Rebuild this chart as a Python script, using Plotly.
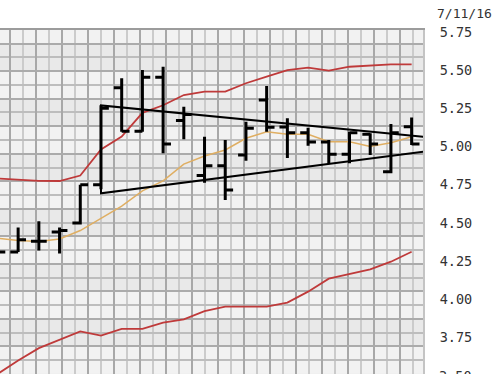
import plotly.graph_objects as go

# ---- data -------------------------------------------------------------
sessions = list(range(21))

opens = [4.40, 4.31, 4.38, 4.44, 4.50, 4.75, 5.385, 5.10, 5.453, 5.17, 4.81,
         4.874, 4.944, 5.304, 5.127, 5.09, 5.03, 4.95, 5.08, 4.835, 5.13]
highs = [4.45, 4.47, 4.51, 4.47, 4.75, 5.27, 5.446, 5.50, 5.522, 5.26, 5.064,
         5.043, 5.162, 5.396, 5.185, 5.123, 5.043, 5.097, 5.086, 5.147, 5.19]
lows = [4.31, 4.31, 4.32, 4.30, 4.49, 4.72, 5.097, 5.097, 4.955, 5.048, 4.763,
        4.65, 4.907, 5.097, 4.925, 5.005, 4.89, 4.89, 4.944, 4.825, 5.01]
closes = [4.31, 4.39, 4.38, 4.45, 4.75, 5.25, 5.10, 5.453, 5.016, 5.21, 4.874,
          4.716, 5.119, 5.126, 5.09, 5.03, 4.95, 5.09, 5.016, 5.09, 5.016]

upper_band = [4.79, 4.78, 4.775, 4.774, 4.81, 4.98, 5.065, 5.22, 5.27, 5.337,
              5.359, 5.359, 5.414, 5.457, 5.50, 5.516, 5.496, 5.522, 5.529,
              5.538, 5.538]
middle_band = [4.40, 4.385, 4.378, 4.395, 4.45, 4.53, 4.61, 4.71, 4.775, 4.885,
               4.938, 4.977, 5.054, 5.097, 5.08, 5.08, 5.031, 5.031, 5.0,
               5.025, 5.064]
lower_band = [3.51, 3.60, 3.68, 3.735, 3.79, 3.762, 3.806, 3.806, 3.847, 3.869,
              3.923, 3.952, 3.952, 3.952, 3.978, 4.05, 4.135, 4.164, 4.196,
              4.246, 4.311]

# symmetrical triangle: apex side open to the right
triangle_x = [21, 5, 5, 21]
triangle_y = [5.058, 5.269, 4.694, 4.974]

price_ticks = [3.75, 4.00, 4.25, 4.50, 4.75, 5.00, 5.25, 5.50, 5.75]
cut_tick = 3.50
date_label = "7/11/16"

# ---- frame ------------------------------------------------------------
X_RANGE = [0.124, 20.549]
Y_RANGE = [3.511, 5.7624]
GRID_X0, GRID_DX = 0.606, 1.2554
GRID_Y0, GRID_DY = 5.6725, 0.18
LABEL_FONT = dict(family="DejaVu Sans Mono", size=13.5, color="#333333")

fig = go.Figure()

fig.add_trace(go.Scatter(x=sessions, y=upper_band, mode="lines",
                         line=dict(color="#bf3a3a", width=1.8), hoverinfo="skip"))
fig.add_trace(go.Scatter(x=sessions, y=lower_band, mode="lines",
                         line=dict(color="#bf3a3a", width=1.8), hoverinfo="skip"))
fig.add_trace(go.Scatter(x=sessions, y=middle_band, mode="lines",
                         line=dict(color="#dfae62", width=1.5), hoverinfo="skip"))
fig.add_trace(go.Scatter(x=triangle_x, y=triangle_y, mode="lines",
                         line=dict(color="#000000", width=2), hoverinfo="skip"))

fig.add_trace(go.Ohlc(
    x=sessions, open=opens, high=highs, low=lows, close=closes,
    increasing=dict(line=dict(color="#000000", width=3)),
    decreasing=dict(line=dict(color="#000000", width=3)),
    tickwidth=0.38, yaxis="y2", hoverinfo="skip",
))

# alternating shaded rows behind the grid
shapes = []
m = 0
while GRID_Y0 - GRID_DY * (m + 1) > Y_RANGE[0] - GRID_DY:
    shapes.append(dict(type="rect", xref="paper", yref="y", layer="below",
                       x0=0, x1=1,
                       y0=GRID_Y0 - GRID_DY * m, y1=GRID_Y0 - GRID_DY * (m + 1),
                       fillcolor="#e9e9e9", line=dict(width=0)))
    m += 2

span = Y_RANGE[1] - Y_RANGE[0]
annotations = [
    dict(text=date_label, xref="paper", yref="paper", x=1, y=1.049,
         xanchor="left", yanchor="middle", xshift=12, showarrow=False,
         font=dict(family="DejaVu Sans Mono", size=13, color="#333333")),
    dict(text=f"{cut_tick:.2f}", xref="paper", yref="paper", x=1,
         y=(cut_tick - Y_RANGE[0]) / span, xanchor="left", yanchor="middle",
         xshift=14, showarrow=False, font=LABEL_FONT),
]

fig.update_layout(
    width=499, height=374,
    margin=dict(l=0, r=76, t=30, b=0),
    paper_bgcolor="#ffffff", plot_bgcolor="#f2f2f2",
    showlegend=False, hovermode=False,
    shapes=shapes, annotations=annotations,
    xaxis=dict(range=X_RANGE, side="top", showticklabels=False, ticks="",
               rangeslider=dict(visible=False),
               showline=True, linecolor="#9c9c9c", linewidth=2,
               showgrid=True, tick0=GRID_X0, dtick=GRID_DX,
               gridcolor="#a8a8a8", gridwidth=2, zeroline=False,
               minor=dict(tick0=GRID_X0, dtick=GRID_DX / 2, showgrid=True,
                          gridcolor="#cbcbcb", gridwidth=2)),
    yaxis=dict(range=Y_RANGE, showticklabels=False, ticks="",
               showgrid=True, tick0=GRID_Y0, dtick=GRID_DY,
               gridcolor="#ababab", gridwidth=2, zeroline=False,
               minor=dict(tick0=GRID_Y0, dtick=GRID_DY / 2, showgrid=True,
                          gridcolor="#bdbdbd", gridwidth=2)),
    yaxis2=dict(overlaying="y", matches="y", side="right", range=Y_RANGE,
                showgrid=False, zeroline=False, ticks="",
                tickvals=price_ticks,
                ticktext=[f"{v:.2f}" for v in price_ticks],
                ticklabelstandoff=12,
                showline=True, linecolor="#c4c4c4", linewidth=2,
                tickfont=LABEL_FONT),
)

fig.write_html("out.html")
